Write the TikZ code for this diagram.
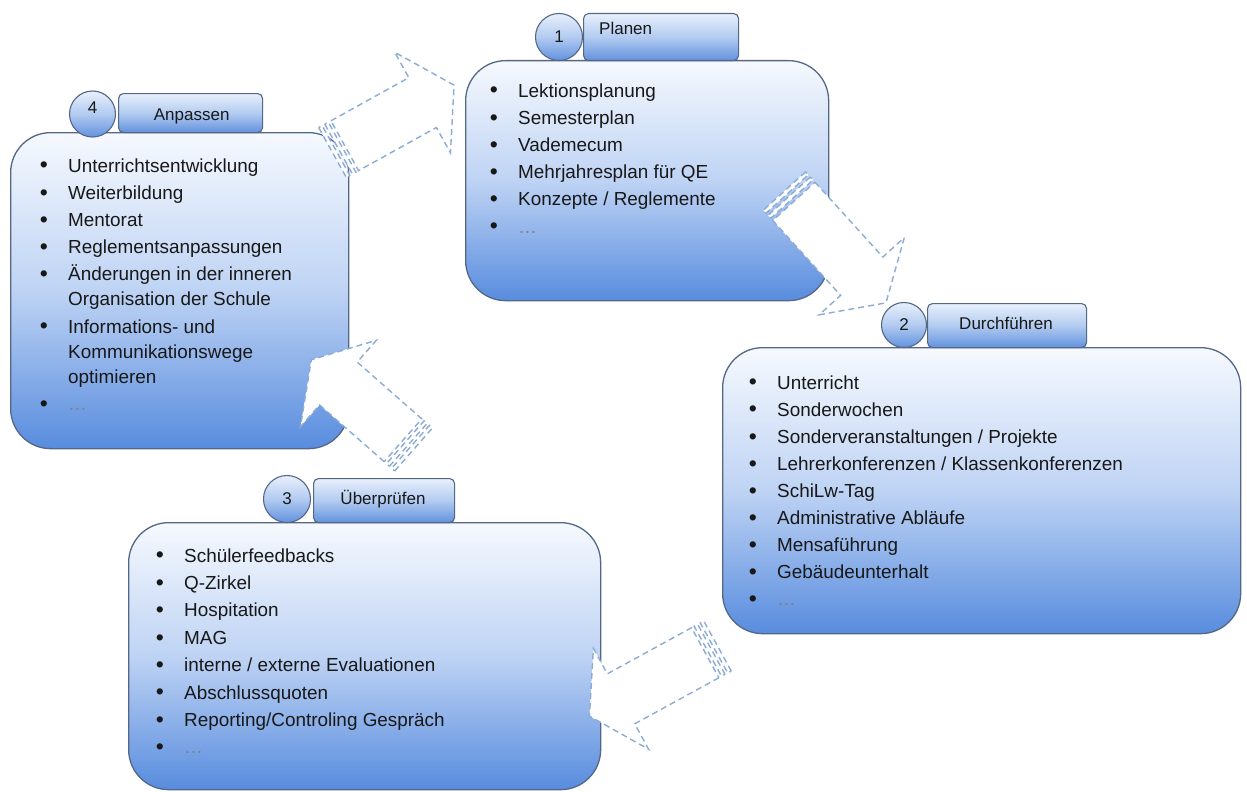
\documentclass[tikz,border=0pt]{standalone}
\usepackage{fontspec}
\setmainfont{Liberation Sans}
\definecolor{boxtop}{RGB}{246,249,254}
\definecolor{boxmid}{RGB}{190,211,244}
\definecolor{boxbot}{RGB}{88,140,222}
\definecolor{edgec}{RGB}{84,104,134}
\definecolor{tabtop}{RGB}{232,240,252}
\definecolor{tabmid}{RGB}{178,203,240}
\definecolor{tabbot}{RGB}{98,146,222}
\definecolor{arrowc}{RGB}{140,172,212}
\definecolor{txt}{RGB}{24,24,24}
\newcommand\blt{\makebox[28.3pt][l]{\raisebox{-0.8pt}{\fontsize{23}{25}\selectfont •}}}
\newcommand\ellg{\textcolor{gray}{…}}
\newcommand\stripedarrow[3]{%
  \begin{scope}[shift={(#1)}, rotate=#2]
    \draw[arrowline] (0,-28.5) rectangle (4,28.5);
    \draw[arrowline] (7,-28.5) rectangle (11,28.5);
    \draw[arrowline] (14,-28.5) -- (#3,-28.5) -- (#3,-57.5) -- ({#3+36},0)
      -- (#3,57.5) -- (#3,28.5) -- (14,28.5) -- cycle;
  \end{scope}}
\tikzset{
  box/.style={draw=edgec, line width=1.3pt, rounded corners=40pt,
    top color=boxtop, bottom color=boxbot, middle color=boxmid,
    inner sep=0pt, anchor=north west},
  tabbox/.style={draw=edgec, line width=1.1pt, rounded corners=5pt,
    top color=tabtop, bottom color=tabbot, middle color=tabmid,
    inner sep=0pt, anchor=north west},
  numcirc/.style={circle, draw=edgec, line width=1.1pt,
    top color=tabtop, bottom color=tabbot, middle color=tabmid,
    inner sep=0pt, minimum size=47pt, text=txt, font=\fontsize{17}{20}\selectfont},
  tabtext/.style={inner sep=0pt, text=txt, font=\fontsize{17}{20}\selectfont},
  listtext/.style={inner sep=0pt, anchor=base west, text=txt,
    font=\fontsize{18.9}{25}\selectfont},
  arrowline/.style={draw=arrowc, line width=1.4pt, dash pattern=on 6pt off 4pt, fill=white},
}
\begin{document}
\begin{tikzpicture}[x=1pt, y=-1pt]
\useasboundingbox[fill=white] (0,0) rectangle (1247,792);

% main boxes
\node[box, minimum width=338pt, minimum height=316pt] (b4) at (10,132) {};
\node[box, minimum width=363pt, minimum height=240pt] (b1) at (465,60) {};
\node[box, minimum width=518pt, minimum height=286pt] (b2) at (722,347) {};
\node[box, minimum width=472pt, minimum height=267pt] (b3) at (128,522) {};

% lists
\node[listtext] (l4) at (39.7,172) {\begin{tabular}[t]{@{}l@{}l@{}}
\blt & Unterrichtsentwicklung\\[2.2pt]
\blt & Weiterbildung\\[2.2pt]
\blt & Mentorat\\[2.2pt]
\blt & Reglementsanpassungen\\[2.2pt]
\blt & Änderungen in der inneren\\
     & Organisation der Schule\\[2.2pt]
\blt & Informations- und\\
     & Kommunikationswege\\
     & optimieren\\[2.2pt]
\blt & \ellg
\end{tabular}};

\node[listtext] (l1) at (489.7,97) {\begin{tabular}[t]{@{}l@{}l@{}}
\blt & Lektionsplanung\\[2.2pt]
\blt & Semesterplan\\[2.2pt]
\blt & Vademecum\\[2.2pt]
\blt & Mehrjahresplan für QE\\[2.2pt]
\blt & Konzepte / Reglemente\\[2.2pt]
\blt & \ellg
\end{tabular}};

\node[listtext] (l2) at (748.7,389) {\begin{tabular}[t]{@{}l@{}l@{}}
\blt & Unterricht\\[2.1pt]
\blt & Sonderwochen\\[2.1pt]
\blt & Sonderveranstaltungen / Projekte\\[2.1pt]
\blt & Lehrerkonferenzen / Klassenkonferenzen\\[2.1pt]
\blt & SchiLw-Tag\\[2.1pt]
\blt & Administrative Abläufe\\[2.1pt]
\blt & Mensaführung\\[2.1pt]
\blt & Gebäudeunterhalt\\[2.1pt]
\blt & \ellg
\end{tabular}};

\node[listtext] (l3) at (155.7,562) {\begin{tabular}[t]{@{}l@{}l@{}}
\blt & Schülerfeedbacks\\[2.4pt]
\blt & Q-Zirkel\\[2.4pt]
\blt & Hospitation\\[2.4pt]
\blt & MAG\\[2.4pt]
\blt & interne / externe Evaluationen\\[2.4pt]
\blt & Abschlussquoten\\[2.4pt]
\blt & Reporting/Controling Gespräch\\[2.4pt]
\blt & \ellg
\end{tabular}};

% striped block arrows
\stripedarrow{332.5,152.5}{29}{103}
\stripedarrow{784.5,191}{-47.8}{115}
\stripedarrow{717.5,646}{208.7}{110}
\stripedarrow{413.5,449.5}{138.7}{100}

% tabs
\node[tabbox, minimum width=155pt, minimum height=47pt] (t1) at (583,13) {};
\node[numcirc] (c1) at (559,37) {1};
\node[tabtext, anchor=base west] (p1) at (599,35) {Planen};

\node[tabbox, minimum width=159pt, minimum height=44pt] (t2) at (927,303) {};
\node[numcirc, minimum size=45pt] (c2) at (904,325) {2};
\node[tabtext, anchor=base] (p2) at (1006,329) {Durchführen};

\node[tabbox, minimum width=141pt, minimum height=44pt] (t3) at (313,478) {};
\node[numcirc] (c3) at (287,499) {3};
\node[tabtext, anchor=base] (p3) at (383,504) {Überprüfen};

\node[tabbox, minimum width=144pt, minimum height=39pt] (t4) at (118,93) {};
\node[numcirc, minimum size=46pt] (c4) at (92.5,114) {\raisebox{12pt}{4}};
\node[tabtext, anchor=base] (p4) at (191.7,120.7) {Anpassen};
\end{tikzpicture}
\end{document}
